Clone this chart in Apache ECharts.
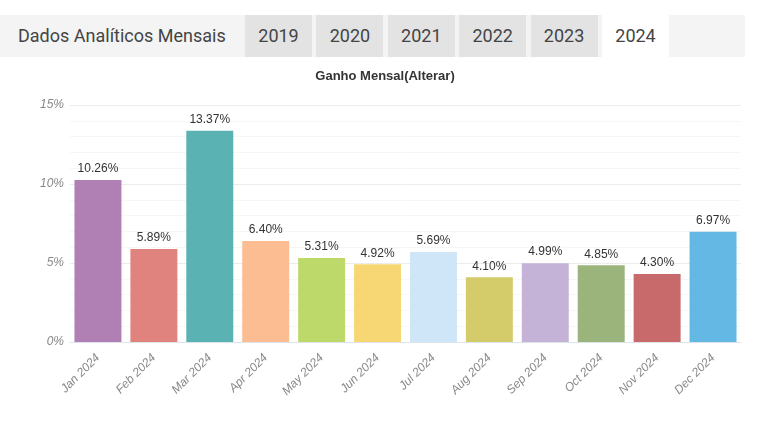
<!DOCTYPE html>
<html lang="pt">
<head>
    <meta charset="UTF-8">
    <title>Dados Analíticos Mensais</title>
    <style>
        body { margin: 0; background: #fff; font-family: Roboto, sans-serif; }
        #wrap { position: relative; width: 768px; height: 432px; overflow: hidden; }
        #bar { position: absolute; left: 0; top: 15px; width: 745px; height: 42px; background: #f4f4f4; }
        #bar .title { position: absolute; left: 18px; top: 0; line-height: 42px; font-size: 18px; color: #444; }
        #bar .tab { position: absolute; top: 0; height: 42px; line-height: 42px; text-align: center; font-size: 18px; color: #444; background: #e3e3e3; }
        #bar .tab.on { background: #fff; }
        #app { position: absolute; left: 0; top: 0; width: 768px; height: 432px; }
    </style>
</head>
<body>
<div id="wrap">
    <div id="app"></div>
    <div id="bar"><span class="title">Dados Analíticos Mensais</span></div>
</div>
<script src="https://cdn.jsdelivr.net/npm/echarts@6/dist/echarts.min.js"></script>
<script>
    const years = ['2019', '2020', '2021', '2022', '2023', '2024'];
    const months = ['Jan 2024', 'Feb 2024', 'Mar 2024', 'Apr 2024', 'May 2024', 'Jun 2024',
        'Jul 2024', 'Aug 2024', 'Sep 2024', 'Oct 2024', 'Nov 2024', 'Dec 2024'];
    const gains = [10.26, 5.89, 13.37, 6.40, 5.31, 4.92, 5.69, 4.10, 4.99, 4.85, 4.30, 6.97];
    const colors = ['#b07fb3', '#e0837f', '#5ab3b2', '#fbbd91', '#bcd96a', '#f7d774',
        '#cfe5f8', '#d4cc6a', '#c4b3d6', '#9bb47c', '#c86a6c', '#63b8e4'];

    // tabs
    const bar = document.getElementById('bar');
    years.forEach((y, i) => {
        const t = document.createElement('div');
        t.className = 'tab' + (y === '2024' ? ' on' : '');
        t.style.left = (245 + i * 71.4) + 'px';
        t.style.width = '67px';
        t.textContent = y;
        bar.appendChild(t);
    });

    const myChart = echarts.init(document.getElementById('app'));
    myChart.setOption({
        animation: false,
        title: {
            text: 'Ganho Mensal(Alterar)',
            left: 380, top: 65, textAlign: 'center',
            textStyle: { fontFamily: 'Liberation Sans', fontSize: 13, fontWeight: 'bold', color: '#333' }
        },
        grid: { left: 70, right: 27, top: 105, bottom: 90 },
        xAxis: {
            type: 'category',
            data: months,
            axisLine: { lineStyle: { color: '#dde3ea' } },
            axisTick: { show: false },
            axisLabel: {
                rotate: 45, color: '#888', fontSize: 12, fontStyle: 'italic',
                fontFamily: 'Liberation Sans', margin: 14
            }
        },
        yAxis: {
            type: 'value', min: 0, max: 15, interval: 5,
            axisLine: { show: false },
            axisTick: { show: false },
            axisLabel: {
                formatter: '{value}%', color: '#888', fontSize: 12, fontStyle: 'italic',
                fontFamily: 'Liberation Sans', margin: 6
            },
            splitLine: { lineStyle: { color: '#ececec' } },
            minorTick: { show: false, splitNumber: 5 },
            minorSplitLine: { show: true, lineStyle: { color: '#f6f6f6' } }
        },
        series: [{
            type: 'bar',
            data: gains.map((v, i) => ({ value: v, itemStyle: { color: colors[i] } })),
            barCategoryGap: '16%',
            label: {
                show: true, position: 'top', color: '#333', fontSize: 12,
                fontFamily: 'Liberation Sans',
                formatter: p => p.value.toFixed(2) + '%'
            }
        }]
    });
</script>
</body>
</html>
